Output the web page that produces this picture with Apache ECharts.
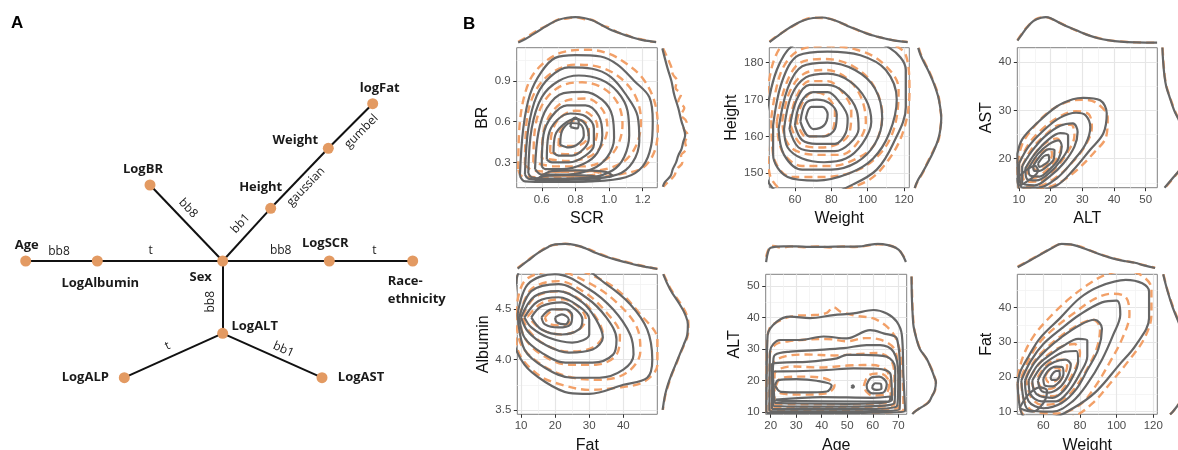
<!DOCTYPE html>
<html><head><meta charset="utf-8">
<script src="https://cdn.jsdelivr.net/npm/echarts@6/dist/echarts.min.js"></script>
<style>html,body{margin:0;padding:0;background:#fff}#c{width:1178px;height:450px}</style>
</head><body><div id="c"></div>
<script>
// ---------------- Panel A: tree (layout units) ----------------
const treeNodes = [
  ['Age', 25.7, 261], ['LogAlbumin', 97.3, 261], ['Sex', 222.7, 261], ['LogSCR', 329.3, 261],
  ['Race-ethnicity', 412.7, 261], ['LogBR', 150, 185], ['Height', 270.7, 208.3], ['Weight', 328.3, 148.3],
  ['logFat', 372.7, 103.7], ['LogALT', 222.7, 333.3], ['LogALP', 124.3, 377.7], ['LogAST', 322, 377.7]
];
const treeEdges = [
  ['Age', 'LogAlbumin', 'bb8'], ['LogAlbumin', 'Sex', 't'], ['Sex', 'LogSCR', 'bb8'], ['LogSCR', 'Race-ethnicity', 't'],
  ['LogBR', 'Sex', 'bb8'], ['Sex', 'Height', 'bb1'], ['Height', 'Weight', 'gaussian'], ['Weight', 'logFat', 'gumbel'],
  ['Sex', 'LogALT', 'bb8'], ['LogALT', 'LogALP', 't'], ['LogALT', 'LogAST', 'bb1']
];

// ---------------- Panel B data ----------------
const scrLim = [0.451, 1.287], brLim = [0.113, 1.145];
const scrTicks = [0.6, 0.8, 1.0, 1.2], scrMinor = [0.5, 0.7, 0.9, 1.1];
const brTicks = [0.3, 0.6, 0.9], brMinor = [0.15, 0.45, 0.75, 1.05];
const wt2Lim = [45.9, 122.9], htLim = [146.1, 184.05];
const wtTicks = [60, 80, 100, 120], wtMinor = [50, 70, 90, 110];
const htTicks = [150, 160, 170, 180], htMinor = [155, 165, 175];
const altLim = [9.46, 53.66], astLim = [14.0, 42.96];
const altTicks = [10, 20, 30, 40, 50], altMinor = [15, 25, 35, 45];
const astTicks = [20, 30, 40], astMinor = [15, 25, 35];
const fatLim = [8.9, 49.97], albLim = [3.457, 4.848];
const fatTicks = [10, 20, 30, 40], fatMinor = [15, 25, 35, 45];
const albTicks = [3.5, 4.0, 4.5], albMinor = [3.75, 4.25, 4.75];
const ageLim = [18.04, 73.3], alt2Lim = [9.37, 53.7];
const ageTicks = [20, 30, 40, 50, 60, 70], ageMinor = [25, 35, 45, 55, 65];
const alt2Ticks = [10, 20, 30, 40, 50], alt2Minor = [15, 25, 35, 45];
const wt6Lim = [45.8, 122.2], fat6Lim = [9.25, 49.6];
const fat6Ticks = [10, 20, 30, 40], fat6Minor = [15, 25, 35, 45];

// contour rings [x, y]
const scrBrGrey = [
  [[0.47,0.2],[0.49,0.55],[0.53,0.8],[0.6,0.97],[0.68,1.07],[0.8,1.09],[0.95,1.08],[1.05,1.02],[1.15,0.9],[1.24,0.78],[1.26,0.6],[1.25,0.42],[1.2,0.27],[1.1,0.19],[0.9,0.16],[0.65,0.155],[0.5,0.16]],
  [[0.5,0.21],[0.52,0.55],[0.57,0.79],[0.65,0.93],[0.76,1.0],[0.9,0.99],[1.01,0.93],[1.1,0.8],[1.17,0.64],[1.18,0.46],[1.14,0.3],[1.05,0.21],[0.85,0.175],[0.62,0.17],[0.52,0.18]],
  [[0.52,0.22],[0.54,0.55],[0.6,0.78],[0.7,0.9],[0.82,0.94],[0.95,0.91],[1.05,0.82],[1.11,0.68],[1.12,0.5],[1.09,0.34],[1.02,0.24],[0.88,0.185],[0.65,0.175],[0.54,0.19]],
  [[0.56,0.25],[0.58,0.52],[0.63,0.7],[0.73,0.81],[0.85,0.82],[0.96,0.76],[1.02,0.64],[1.03,0.48],[0.99,0.34],[0.9,0.25],[0.75,0.21],[0.6,0.21]],
  [[0.6,0.27],[0.61,0.5],[0.66,0.64],[0.75,0.72],[0.86,0.72],[0.94,0.64],[0.96,0.5],[0.93,0.37],[0.85,0.29],[0.72,0.25],[0.62,0.25]],
  [[0.63,0.32],[0.64,0.5],[0.69,0.61],[0.77,0.66],[0.86,0.64],[0.91,0.55],[0.91,0.43],[0.86,0.35],[0.76,0.3],[0.66,0.3]],
  [[0.67,0.37],[0.68,0.5],[0.73,0.58],[0.8,0.62],[0.86,0.58],[0.88,0.48],[0.85,0.4],[0.78,0.35],[0.7,0.35]],
  [[0.71,0.43],[0.72,0.53],[0.77,0.59],[0.83,0.58],[0.85,0.5],[0.82,0.44],[0.76,0.41]],
  [[0.77,0.56],[0.78,0.61],[0.8,0.63],[0.82,0.6],[0.81,0.55]],
  [[0.56,0.17],[0.62,0.2],[0.75,0.205],[0.9,0.2],[0.95,0.18],[0.85,0.16],[0.7,0.155],[0.58,0.16]],
  [[0.58,0.18],[0.66,0.235],[0.8,0.24],[0.98,0.23],[1.02,0.2],[0.9,0.185],[0.7,0.18]]
];
const scrBrOrange = [
  [[0.46,0.25],[0.47,0.6],[0.52,0.88],[0.6,1.02],[0.72,1.11],[0.88,1.13],[1.0,1.1],[1.1,1.03],[1.2,0.92],[1.27,0.75],[1.29,0.55],[1.27,0.38],[1.2,0.26],[1.05,0.21],[0.85,0.19],[0.6,0.19],[0.48,0.2]],
  [[0.5,0.28],[0.51,0.6],[0.56,0.82],[0.66,0.96],[0.8,1.02],[0.95,1.0],[1.07,0.92],[1.16,0.78],[1.19,0.6],[1.16,0.42],[1.08,0.3],[0.93,0.24],[0.72,0.23],[0.55,0.24]],
  [[0.55,0.3],[0.56,0.55],[0.61,0.74],[0.71,0.86],[0.84,0.89],[0.96,0.85],[1.05,0.74],[1.08,0.58],[1.05,0.42],[0.98,0.32],[0.85,0.27],[0.68,0.27]],
  [[0.6,0.33],[0.61,0.52],[0.66,0.67],[0.76,0.76],[0.87,0.77],[0.96,0.69],[0.99,0.56],[0.96,0.43],[0.88,0.34],[0.75,0.31]],
  [[0.65,0.37],[0.66,0.52],[0.71,0.63],[0.8,0.68],[0.88,0.66],[0.93,0.57],[0.92,0.46],[0.86,0.39],[0.76,0.36]],
  [[0.7,0.42],[0.71,0.53],[0.76,0.6],[0.83,0.61],[0.88,0.55],[0.87,0.47],[0.8,0.42]],
  [[0.6,0.21],[0.7,0.23],[0.85,0.235],[0.95,0.22],[0.85,0.2],[0.7,0.2]]
];
const wtHtGrey = [
  [[44,165],[50,178],[60,185],[75,186],[95,186],[112,184],[121,178],[121,168],[114,158],[105,151],[92,147],[75,144],[55,144],[44,150]],
  [[48,163],[53,175],[62,182],[78,183],[96,182],[110,178],[116,170],[112,161],[103,154],[90,150],[72,148],[56,149],[48,155]],
  [[51,162],[56,173],[64,179],[78,180],[93,178],[104,173],[108,165],[104,158],[94,153],[80,151],[64,151],[54,155]],
  [[54,162],[58,171],[66,176],[78,177],[90,175],[99,170],[102,164],[97,158],[88,154],[76,153],[64,154],[56,157]],
  [[57,162],[61,170],[68,174],[78,174],[87,172],[94,167],[95,162],[90,158],[82,156],[72,156],[62,157]],
  [[60,163],[63,169],[70,172],[78,172],[85,169],[89,165],[88,161],[82,158],[72,158],[64,159]],
  [[63,164],[66,169],[72,170],[79,169],[83,166],[82,162],[76,160],[68,160]],
  [[66,165],[69,168],[75,168],[78,166],[76,163],[70,162]]
];
const wtHtOrange = [
  [[44,168],[48,180],[56,186],[70,187],[90,187],[108,186],[121,182],[123,172],[120,162],[112,154],[100,148],[80,145],[60,144],[46,150]],
  [[47,165],[52,177],[61,183],[76,184.5],[94,183.5],[108,180],[117,173],[115,163],[108,156],[95,151],[76,149],[58,149],[48,155]],
  [[50,164],[55,174],[63,180],[77,181],[92,179],[103,174],[108,166],[104,158],[94,154],[80,152],[64,152],[53,156]],
  [[53,164],[57,172],[65,177],[77,178],[88,176],[96,171],[99,164],[94,158],[85,155],[74,155],[61,156],[55,159]],
  [[57,164],[61,171],[68,175],[78,175],[86,172],[91,167],[90,161],[84,158],[74,157],[63,158]],
  [[61,164],[64,169],[70,172],[77,171],[82,167],[81,162],[75,160],[66,160]]
];
const altAstGrey = [
  [[9.5,21],[11,24],[15.6,27.3],[21.9,30.8],[27,32.3],[30.3,32.6],[35.6,32.1],[37.7,29.4],[36.6,25.2],[32.4,21.8],[27.2,17.7],[22,14.5],[16,13.5],[10,13.5]],
  [[10,19],[13,22.5],[18,26],[23,28.5],[28,29.5],[31,29],[32.5,26.5],[31,23],[27,19.5],[22,16],[16,14],[11,14]],
  [[11,18.5],[14,21.5],[18,24.5],[23,26.8],[27,27.3],[28.5,25.5],[27.5,22.5],[24,19],[20,16.5],[15,14.5],[11,15]],
  [[12,18],[15,21],[19,23.8],[23,25.3],[25.5,24.8],[25.5,22.5],[23,19.5],[19.5,17],[15.5,15.5],[12.5,15.8]],
  [[13,18],[16,21],[19.5,23],[22.5,23.8],[23.5,22.5],[22.5,20],[20,18],[16.5,16.3],[13.5,16.5]],
  [[14.5,18.5],[17,20.8],[19.5,22],[21.2,21.8],[21,20],[19,18.5],[16.5,17.5],[14.8,17.5]],
  [[16,19],[17.8,20.5],[19.3,20.8],[19.5,19.8],[18,18.8],[16.5,18.3]],
  [[9.5,16],[12,17.5],[15,18.5],[16,17.5],[13,15.5],[10,14.5]]
];
const altAstOrange = [
  [[9.5,19],[11,23],[14,26],[19,29.5],[25,31.7],[30,32.2],[34.5,31.5],[38,28.5],[37.5,24.5],[34,21.5],[28,17.5],[22,14.8],[15,13.6],[10,13.8]],
  [[10,19],[13,23],[18,26.5],[23,28.8],[28,29.8],[32,29.2],[33,26.5],[31,22.8],[26.5,19],[21,15.8],[15,14.2],[11,14.5]],
  [[11,18.5],[14,22],[18.5,25],[23,27],[26.5,27],[27.5,24.8],[25.5,21.5],[21.5,18],[16.5,15.3],[12,15.2]],
  [[12.5,18.3],[15.5,21.5],[19,23.5],[22,24.2],[23.3,22.5],[21.8,20],[18.5,17.5],[14.5,16],[12.8,16.5]],
  [[14.5,18.8],[17,21.2],[19.5,22],[20.5,21],[19,19],[16.5,17.7],[14.8,17.8]]
];
const fatAlbGrey = [
  [[8,4.5],[10,4.9],[25,4.95],[35,4.75],[42,4.55],[47,4.3],[48.5,4.0],[47,3.82],[40,3.75],[30,3.66],[24,3.67],[17,3.78],[11,3.95],[8,4.2]],
  [[9,4.45],[12,4.75],[20,4.85],[30,4.7],[37,4.5],[42,4.25],[43,4.05],[40,3.9],[33,3.82],[25,3.82],[17,3.92],[11,4.1]],
  [[9.5,4.42],[13,4.68],[21,4.75],[29,4.62],[35,4.42],[38,4.2],[37,4.05],[31,3.97],[23,3.97],[16,4.07],[11,4.22]],
  [[10,4.42],[14,4.63],[21,4.68],[28,4.57],[32,4.4],[34,4.22],[31,4.1],[24,4.07],[17,4.15],[12,4.28]],
  [[11,4.42],[15,4.58],[21,4.62],[27,4.53],[30,4.4],[30,4.25],[25,4.17],[18,4.22],[13,4.32]],
  [[13,4.42],[16,4.53],[22,4.57],[26,4.5],[28,4.4],[27,4.3],[22,4.25],[16,4.3]],
  [[16,4.42],[19,4.5],[23,4.5],[25,4.44],[24.5,4.35],[21,4.32],[17,4.35]],
  [[20,4.42],[22,4.45],[24,4.4],[23,4.35],[20.5,4.37]]
];
const fatAlbOrange = [
  [[8,4.5],[9,4.85],[20,4.95],[30,4.85],[38,4.7],[45,4.45],[50,4.2],[50,3.95],[46,3.78],[38,3.72],[30,3.7],[22,3.75],[15,3.85],[9,4.1]],
  [[8.5,4.45],[11,4.78],[20,4.88],[30,4.76],[38,4.57],[44,4.32],[45,4.08],[41,3.87],[33,3.8],[24,3.83],[16,3.95],[10,4.15]],
  [[9.5,4.43],[13,4.7],[21,4.78],[29,4.66],[35,4.47],[39,4.25],[38,4.05],[32,3.95],[24,3.95],[16,4.05],[11,4.22]],
  [[10.5,4.43],[14,4.62],[21,4.68],[28,4.58],[32,4.42],[34,4.25],[31,4.12],[24,4.08],[17,4.15],[12,4.3]],
  [[12,4.43],[16,4.56],[22,4.6],[27,4.52],[29,4.4],[27,4.3],[22,4.25],[16,4.3]],
  [[17,4.42],[20,4.5],[24,4.48],[25,4.4],[22,4.34],[18,4.36]]
];
const ageAltGrey = [
  [[18.3,9.8],[18.4,20],[18.8,34.5],[22.4,38.7],[27.6,40.3],[35.4,39.8],[44.6,40.8],[52.4,41.3],[60.3,42.4],[65.5,41.3],[69.4,38.7],[71.4,34.5],[72,21.8],[72.7,10.5],[60,9.9],[40,9.8]],
  [[19.5,10.3],[19.7,29.2],[23.7,32.9],[31.5,32.9],[40.7,34],[49.8,33.4],[59,36],[64.2,35],[69.4,33.4],[70.7,21.8],[70.5,11],[60,10.4],[40,10.3]],
  [[20.5,11],[21,26],[21.7,28.2],[27.6,29.2],[38,29.7],[48.5,30.3],[57.6,31.3],[62.9,31.3],[68.1,29.2],[70,21.8],[69.5,12],[55,11],[35,11]],
  [[21,12],[20.4,25],[26.3,25.8],[34.1,26],[46,27.1],[49.8,28.2],[56.3,28.2],[65.5,27.6],[68.8,23.9],[68.5,13],[50,11.8],[30,11.8]],
  [[21.5,13],[20.8,22.9],[30,23],[42,23.4],[52.4,23.9],[62,23.8],[67,22],[67.5,14],[50,12.7],[30,12.8]],
  [[22,14],[40,14.8],[60,14.6],[67,15],[66,13.4],[40,13.5],[22,13.6]],
  [[21.7,18.5],[23,20.2],[30,20.5],[38,20],[43.9,18.5],[42,16.6],[33,16.3],[24,16.5]],
  [[57.6,18.7],[59.5,21],[62.5,21.3],[65.5,19],[64,16.2],[60,16],[58,17]],
  [[59.8,18.2],[61,19.2],[63.2,19],[63.4,17.5],[61.5,17.1],[60,17.5]],
  [[51.6,18.1],[52.2,18.5],[52.6,18.1],[52.1,17.8]]
];
const ageAltOrange = [
  [[18.3,9.8],[18.5,30],[19.5,36.5],[24,39.2],[30,40.6],[37,40.8],[42,41.5],[44.6,43.3],[47.5,41.8],[54,40.5],[60,39.8],[65,37.5],[69,33.5],[71.5,25],[72,10.5],[50,9.9],[25,9.9]],
  [[19.5,10.6],[19.6,28],[22,31.5],[27,32.5],[34,33],[42,33.2],[50,32.5],[57,33.5],[63,33],[68.5,30],[70,22],[70.3,11.5],[50,10.8],[30,10.7]],
  [[20.5,11.5],[20.8,25],[26,27.8],[34,28.3],[45,28],[55,28.5],[62,28.8],[67.5,26],[68.5,20],[68.5,12.5],[50,11.6],[30,11.5]],
  [[21.5,12.5],[21.5,22],[28,24.5],[40,24.2],[50,24.8],[60,25],[66,22.5],[67,15],[66,13],[45,12.5]],
  [[22,18.3],[24,20.8],[32,21.3],[41,20.8],[45,18.5],[42,16],[32,15.6],[24,16]],
  [[56.5,18.3],[58.5,21.8],[63,22.3],[66.5,19.3],[65,15.8],[60,15.3],[57.5,16.5]]
];
const wtFatGrey = [
  [[46,18],[47.4,21.5],[52,26],[58.2,31.2],[69,36.9],[79.8,42.7],[90.6,46.1],[105,48],[114,47],[117.7,44.6],[117.7,36.9],[110.5,29.2],[101.4,23.5],[88.8,15.8],[76.2,11],[65,8.5],[50,8.5]],
  [[48,19],[53,24.5],[60,29.5],[70,34],[80,38],[92,41.5],[100,42],[102,38],[98,32],[92,25],[84,18],[76,13],[65,10],[52,10.5]],
  [[50,19],[55,24],[62,28],[70,31.5],[80,35],[88,36.5],[92,34],[90,28],[84,22],[78,16.5],[70,12.5],[60,11],[52,13]],
  [[52,19],[57,23.5],[64,26.5],[71,29],[79,31],[84,30.5],[84,26],[80,21],[74,16],[67,13],[59,13],[53,15]],
  [[54,19],[59,23],[65,25.5],[72,27.3],[78,27.5],[79,24.5],[76,20],[71,16],[65,14],[58,14.5],[55,16]],
  [[57,19],[61,22.5],[66,24.3],[72,25],[75,23.5],[73,20],[69,17],[63,15.5],[59,16]],
  [[60,19.5],[63,22],[67,23],[70.5,22.8],[71,21],[69,18.8],[65,17.3],[61,17.5]],
  [[64,20],[66,21.5],[68.5,21.8],[69,20.5],[67,19.2],[64.5,19.2]],
  [[47,11],[52,15],[58,17],[62,16],[60,12.5],[54,10]]
];
const wtFatOrange = [
  [[46,20],[49,26],[55,32],[64,37.5],[74,42.5],[84,46.5],[94,49.5],[104,50.5],[113,49.5],[119,45.5],[119,38],[115,31],[107,25],[97,18.5],[87,12.5],[76,8.5],[60,7.5],[48,10]],
  [[48,20],[52,25],[58,30],[67,34.5],[77,38.5],[88,42.5],[97,44],[105,43],[107,38],[103,31],[96,24],[88,17],[80,12],[68,9.5],[55,10],[49,14]],
  [[50.5,20],[55,24.5],[62,28.5],[70,32],[79,35],[87,36.5],[91,34],[89,28],[83,21.5],[76,16],[68,12.5],[59,12],[53,14.5]],
  [[53,20],[58,24],[64,27],[71,29],[77,29.5],[80,27],[77,22],[72,17.5],[66,14.5],[59,14.5],[55,16.5]],
  [[57,20],[61,23],[66,24.8],[71,25],[73,23],[70,19.5],[66,17],[61,16.5],[58,17.5]],
  [[61,20.2],[64,22.3],[68,22.6],[69.5,21],[67,19],[63,18.5]]
];

// marginal densities (relative): top = [x, density], right = [y, density]
const scrDensGrey = [[0.46,0.03],[0.5,0.15],[0.55,0.35],[0.6,0.55],[0.65,0.75],[0.7,0.9],[0.75,0.98],[0.8,1.0],[0.85,0.97],[0.9,0.88],[0.95,0.72],[1.0,0.55],[1.05,0.42],[1.1,0.3],[1.15,0.2],[1.2,0.12],[1.25,0.07],[1.28,0.04]];
const scrDensOrange = [[0.46,0.05],[0.5,0.2],[0.55,0.4],[0.6,0.58],[0.65,0.74],[0.7,0.92],[0.75,0.95],[0.8,1.0],[0.85,0.93],[0.9,0.9],[0.95,0.7],[1.0,0.6],[1.05,0.42],[1.1,0.33],[1.15,0.2],[1.2,0.14],[1.25,0.06],[1.28,0.05]];
const brDensGrey = [[1.14,0.02],[1.0,0.2],[0.9,0.35],[0.8,0.45],[0.7,0.6],[0.6,0.72],[0.55,0.8],[0.5,0.85],[0.45,0.78],[0.4,0.72],[0.35,0.6],[0.3,0.52],[0.25,0.4],[0.2,0.32],[0.15,0.1],[0.12,0.04]];
const brDensOrange = [[1.14,0.05],[1.05,0.25],[1.0,0.35],[0.95,0.4],[0.9,0.55],[0.85,0.5],[0.8,0.7],[0.75,0.6],[0.7,0.82],[0.65,0.7],[0.6,0.9],[0.55,0.8],[0.5,0.95],[0.45,0.85],[0.4,0.9],[0.35,0.7],[0.3,0.75],[0.25,0.55],[0.2,0.45],[0.15,0.2],[0.12,0.06]];
const wtDensGrey = [[46,0.04],[50,0.25],[55,0.5],[60,0.72],[65,0.88],[70,0.97],[75,0.99],[80,0.92],[85,0.8],[90,0.63],[95,0.5],[100,0.36],[105,0.26],[110,0.17],[115,0.1],[122,0.04]];
const wtDensOrange = [[46,0.06],[50,0.27],[55,0.5],[60,0.7],[65,0.9],[70,0.98],[75,0.97],[80,0.93],[85,0.78],[90,0.65],[95,0.48],[100,0.37],[105,0.25],[110,0.18],[115,0.1],[122,0.05]];
const htDensGrey = [[184,0.16],[182,0.25],[180,0.38],[177,0.58],[174,0.75],[171,0.88],[168,0.96],[165,1.0],[162,0.97],[159,0.88],[156,0.72],[153,0.52],[150,0.3],[148,0.14],[146,0.03]];
const htDensOrange = [[184,0.18],[182,0.27],[180,0.4],[177,0.6],[174,0.76],[171,0.9],[168,0.95],[165,1.0],[162,0.96],[159,0.9],[156,0.7],[153,0.5],[150,0.32],[148,0.15],[146,0.04]];
const altDensGrey = [[9.5,0.1],[11,0.35],[12.5,0.6],[14.5,0.85],[17,0.98],[18.5,1.0],[20,0.96],[23,0.77],[26,0.6],[29,0.45],[32,0.3],[35,0.19],[38,0.12],[42,0.06],[47,0.03],[53.6,0.02]];
const altDensOrange = [[9.5,0.12],[11,0.38],[12.5,0.62],[14.5,0.86],[16,0.96],[18,1.0],[20,0.95],[23,0.78],[26,0.6],[29,0.44],[32,0.31],[35,0.2],[38,0.12],[42,0.07],[47,0.03],[53.6,0.02]];
const astDensGrey = [[43,0.02],[40,0.05],[37,0.1],[35,0.16],[33,0.27],[30,0.45],[28,0.62],[25,0.85],[22,1.0],[20,0.95],[18,0.7],[16,0.4],[14,0.1]];
const astDensOrange = [[43,0.03],[40,0.06],[37,0.11],[35,0.17],[33,0.28],[30,0.47],[28,0.63],[25,0.86],[22,1.0],[20,0.94],[18,0.7],[16,0.42],[14,0.12]];
const fatDensGrey = [[9,0.05],[12,0.35],[15,0.65],[18,0.88],[20,0.98],[23,1.0],[26,0.95],[29,0.82],[32,0.65],[35,0.5],[38,0.38],[41,0.28],[44,0.18],[47,0.1],[50,0.03]];
const fatDensOrange = [[9,0.07],[12,0.37],[15,0.66],[18,0.9],[20,0.96],[23,1.0],[26,0.93],[29,0.84],[32,0.68],[35,0.52],[38,0.4],[41,0.3],[44,0.2],[47,0.11],[50,0.04]];
const albDensGrey = [[4.85,0.05],[4.7,0.3],[4.55,0.65],[4.45,0.85],[4.35,0.95],[4.25,0.93],[4.15,0.8],[4.05,0.65],[3.95,0.5],[3.85,0.35],[3.75,0.22],[3.65,0.12],[3.5,0.03]];
const albDensOrange = [[4.85,0.07],[4.7,0.33],[4.55,0.7],[4.45,0.9],[4.35,0.97],[4.25,0.95],[4.15,0.82],[4.05,0.66],[3.95,0.52],[3.85,0.36],[3.75,0.24],[3.65,0.13],[3.5,0.04]];
const ageDensGrey = [[18.2,0.3],[19,0.7],[20,0.85],[25,0.9],[30,0.9],[35,0.88],[40,0.88],[45,0.89],[50,0.89],[55,0.9],[58,0.95],[62,1.0],[66,0.95],[69,0.85],[71,0.68],[73,0.3]];
const ageDensOrange = [[18.2,0.5],[19.5,0.85],[21,0.92],[24,0.85],[28,0.9],[33,0.87],[38,0.9],[43,0.86],[48,0.9],[53,0.88],[58,0.93],[62,0.98],[66,0.95],[69,0.85],[71,0.68],[73,0.35]];
const alt2DensGrey = [[53,0.01],[45,0.03],[40,0.06],[37,0.09],[33,0.2],[30,0.32],[27,0.56],[24,0.72],[21,0.85],[19.5,0.9],[17,0.86],[15,0.75],[13,0.62],[11.5,0.35],[10,0.1],[9.4,0.04]];
const alt2DensOrange = [[53,0.02],[45,0.04],[40,0.07],[37,0.1],[33,0.21],[30,0.33],[27,0.55],[24,0.73],[21,0.86],[19.5,0.9],[17,0.87],[15,0.74],[13,0.6],[11.5,0.34],[10,0.1],[9.4,0.05]];
const wt6DensGrey = [[46,0.1],[50,0.25],[55,0.45],[60,0.65],[65,0.85],[70,1.0],[75,0.98],[80,0.88],[85,0.75],[90,0.62],[95,0.5],[100,0.4],[105,0.33],[110,0.27],[115,0.17],[121,0.07]];
const wt6DensOrange = [[46,0.12],[50,0.27],[55,0.47],[60,0.66],[65,0.86],[70,0.99],[75,0.97],[80,0.9],[85,0.76],[90,0.63],[95,0.51],[100,0.41],[105,0.34],[110,0.27],[115,0.18],[121,0.08]];
const fat6DensGrey = [[49.6,0.05],[45,0.2],[40,0.4],[35,0.65],[30,0.85],[25,0.98],[20,1.0],[15,0.85],[12,0.6],[10,0.4],[9.25,0.3]];
const fat6DensOrange = [[49.6,0.06],[45,0.21],[40,0.42],[35,0.66],[30,0.86],[25,0.98],[20,1.0],[15,0.84],[12,0.6],[10,0.4],[9.25,0.3]];

// ---------------- build ----------------
const panels = [
  {xName:'SCR', yName:'BR', xLim:scrLim, yLim:brLim, xTicks:scrTicks, yTicks:brTicks, xMinor:scrMinor, yMinor:brMinor, xDec:1, yDec:1, grey:scrBrGrey, orange:scrBrOrange, topG:scrDensGrey, topO:scrDensOrange, rightG:brDensGrey, rightO:brDensOrange},
  {xName:'Weight', yName:'Height', xLim:wt2Lim, yLim:htLim, xTicks:wtTicks, yTicks:htTicks, xMinor:wtMinor, yMinor:htMinor, xDec:0, yDec:0, grey:wtHtGrey, orange:wtHtOrange, topG:wtDensGrey, topO:wtDensOrange, rightG:htDensGrey, rightO:htDensOrange},
  {xName:'ALT', yName:'AST', xLim:altLim, yLim:astLim, xTicks:altTicks, yTicks:astTicks, xMinor:altMinor, yMinor:astMinor, xDec:0, yDec:0, grey:altAstGrey, orange:altAstOrange, topG:altDensGrey, topO:altDensOrange, rightG:astDensGrey, rightO:astDensOrange},
  {xName:'Fat', yName:'Albumin', xLim:fatLim, yLim:albLim, xTicks:fatTicks, yTicks:albTicks, xMinor:fatMinor, yMinor:albMinor, xDec:0, yDec:1, grey:fatAlbGrey, orange:fatAlbOrange, topG:fatDensGrey, topO:fatDensOrange, rightG:albDensGrey, rightO:albDensOrange},
  {xName:'Age', yName:'ALT', xLim:ageLim, yLim:alt2Lim, xTicks:ageTicks, yTicks:alt2Ticks, xMinor:ageMinor, yMinor:alt2Minor, xDec:0, yDec:0, grey:ageAltGrey, orange:ageAltOrange, topG:ageDensGrey, topO:ageDensOrange, rightG:alt2DensGrey, rightO:alt2DensOrange},
  {xName:'Weight', yName:'Fat', xLim:wt6Lim, yLim:fat6Lim, xTicks:wtTicks, yTicks:fat6Ticks, xMinor:wtMinor, yMinor:fat6Minor, xDec:0, yDec:0, grey:wtFatGrey, orange:wtFatOrange, topG:wt6DensGrey, topO:wt6DensOrange, rightG:fat6DensGrey, rightO:fat6DensOrange}
];
// layout: left, top, width, height, yNameGap
const panelBoxes = [
  [516.7, 47.7, 140.6, 140, 26], [769.3, 47.7, 140, 140, 30], [1017.3, 47.7, 140, 140, 23],
  [517.3, 274.3, 140, 140, 26], [765.7, 274.3, 141, 140, 23], [1017.3, 274.3, 140, 140, 23]
];

const AXF = 'Liberation Sans, Arial, sans-serif';
const TREEF = 'Open Sans, Noto Sans, sans-serif';
const GREY = '#666666', ORANGE = '#F2A068';
const grids = [], xAxes = [], yAxes = [], series = [];

grids.push({left:0, top:0, width:460, height:450, show:false, outerBoundsMode:'none'});
xAxes.push({gridIndex:0, type:'value', min:0, max:460, show:false});
yAxes.push({gridIndex:0, type:'value', min:0, max:450, inverse:true, show:false});
const nodePos = {};
treeNodes.forEach(n => { nodePos[n[0]] = [n[1], n[2]]; });
series.push({
  type:'lines', coordinateSystem:'cartesian2d', xAxisIndex:0, yAxisIndex:0, silent:true, z:2,
  lineStyle:{color:'#111', width:2, opacity:1, curveness:0},
  data: treeEdges.map(e => ({coords:[nodePos[e[0]], nodePos[e[1]]]}))
});
const nodeLabelOffset = {
  'Age':[1,-16], 'LogAlbumin':[3,22], 'Sex':[-22,16], 'LogSCR':[-4,-18], 'LogBR':[-7,-16],
  'Height':[-10,-21], 'Weight':[-33,-8], 'logFat':[7,-15], 'LogALT':[32,-7], 'LogALP':[-39,0], 'LogAST':[39,0]
};
series.push({
  type:'scatter', xAxisIndex:0, yAxisIndex:0, symbol:'circle', symbolSize:11, silent:true, z:5,
  itemStyle:{color:'#E39A62', opacity:1},
  data: treeNodes.map(n => {
    const isRace = n[0] === 'Race-ethnicity';
    return {
      name:n[0], value:[n[1], n[2]],
      label:{show:true, position:'inside', formatter: isRace ? 'Race-\nethnicity' : n[0],
        align: isRace ? 'left' : 'center', verticalAlign:'middle',
        offset: isRace ? [-25, 29] : nodeLabelOffset[n[0]], lineHeight:18,
        fontFamily:TREEF, fontWeight:'bold', fontSize:13, color:'#1a1a1a'}
    };
  })
});
// edge label placement: [fraction along edge, perpendicular distance]
const edgeLabelPlace = [[0.465,9.5],[0.426,10],[0.544,10],[0.54,10],[0.41,11.5],[0.555,12],[0.48,-10.5],[0.56,-11.5],[0.563,12],[0.514,11],[0.57,10]];
series.push({
  type:'scatter', xAxisIndex:0, yAxisIndex:0, symbol:'circle', symbolSize:0.5, silent:true, z:6,
  itemStyle:{color:'#ffffff', opacity:1},
  data: treeEdges.map((e, i) => {
    const a = nodePos[e[0]], b = nodePos[e[1]];
    const dx = b[0]-a[0], dy = b[1]-a[1];
    let th = Math.atan2(-dy, dx) * 180 / Math.PI;
    if (th > 90) th -= 180;
    if (th <= -90) th += 180;
    const r = th * Math.PI / 180;
    const up = [-Math.sin(r), -Math.cos(r)];
    const f = edgeLabelPlace[i][0], p = edgeLabelPlace[i][1];
    return {
      name:e[2], value:[a[0] + f*dx + p*up[0], a[1] + f*dy + p*up[1]],
      label:{show:true, position:'inside', formatter:e[2], rotate:th, align:'center', verticalAlign:'middle',
        fontFamily:TREEF, fontSize:12, color:'#1a1a1a', opacity:1, textBorderWidth:0}
    };
  })
});

function fmt(dec){ return v => (dec ? Number(v).toFixed(dec) : String(v)); }
panels.forEach((P, k) => {
  const [L, T, W, H, yGap] = panelBoxes[k];
  const gi = grids.length;
  grids.push({left:L, top:T, width:W, height:H, show:true, borderColor:'#808080', borderWidth:1, backgroundColor:'rgba(0,0,0,0)', outerBoundsMode:'none'});
  const xi = xAxes.length, yi = yAxes.length;
  xAxes.push({gridIndex:gi, type:'value', position:'bottom', min:P.xLim[0], max:P.xLim[1],
    name:P.xName, nameLocation:'middle', nameGap:23, nameTextStyle:{fontFamily:AXF, fontSize:16, color:'#111'},
    axisLine:{show:false}, axisTick:{show:true, length:3.5, lineStyle:{color:'#333', width:1}, customValues:P.xTicks},
    axisLabel:{show:true, customValues:P.xTicks, formatter:fmt(P.xDec), color:'#4d4d4d', fontFamily:AXF, fontSize:11.5, margin:6},
    splitLine:{show:true, lineStyle:{color:'#e6e6e6', width:1.2}}});
  yAxes.push({gridIndex:gi, type:'value', position:'left', min:P.yLim[0], max:P.yLim[1],
    name:P.yName, nameLocation:'middle', nameGap:yGap, nameTextStyle:{fontFamily:AXF, fontSize:16, color:'#111'},
    axisLine:{show:false}, axisTick:{show:true, length:3.5, lineStyle:{color:'#333', width:1}, customValues:P.yTicks},
    axisLabel:{show:true, customValues:P.yTicks, formatter:fmt(P.yDec), color:'#4d4d4d', fontFamily:AXF, fontSize:11.5, margin:6},
    splitLine:{show:true, lineStyle:{color:'#e6e6e6', width:1.2}}});
  xAxes.push({gridIndex:gi, type:'value', position:'top', min:P.xLim[0], max:P.xLim[1],
    axisLine:{show:false}, axisTick:{show:false, customValues:P.xMinor}, axisLabel:{show:false, customValues:P.xMinor},
    splitLine:{show:true, lineStyle:{color:'#f2f2f2', width:0.8}}});
  yAxes.push({gridIndex:gi, type:'value', position:'right', min:P.yLim[0], max:P.yLim[1],
    axisLine:{show:false}, axisTick:{show:false, customValues:P.yMinor}, axisLabel:{show:false, customValues:P.yMinor},
    splitLine:{show:true, lineStyle:{color:'#f2f2f2', width:0.8}}});
  const ringSeries = (ring, color, dashed, z) => ({
    type:'line', xAxisIndex:xi, yAxisIndex:yi, data:ring.concat([ring[0]]), smooth:0.35, symbol:'none',
    clip:true, silent:true, z:z, animation:false,
    lineStyle:{color:color, width: dashed ? 2.4 : 2.2, type: dashed ? [8,5] : 'solid'}
  });
  P.orange.forEach(r => series.push(ringSeries(r, ORANGE, true, 3)));
  P.grey.forEach(r => series.push(ringSeries(r, GREY, false, 4)));

  const tg = grids.length;
  grids.push({left:L, top:T-31, width:W, height:26.5, show:false, outerBoundsMode:'none'});
  const txi = xAxes.length, tyi = yAxes.length;
  xAxes.push({gridIndex:tg, type:'value', min:P.xLim[0], max:P.xLim[1], show:false});
  yAxes.push({gridIndex:tg, type:'value', min:0, max:1.02, show:false});
  const margLine = (data, xa, ya, color, dashed, z) => ({
    type:'line', xAxisIndex:xa, yAxisIndex:ya, data:data, smooth:0.4, symbol:'none', clip:true, silent:true, z:z,
    lineStyle:{color:color, width: dashed ? 2.4 : 2.2, type: dashed ? [8,5] : 'solid'}
  });
  series.push(margLine(P.topO, txi, tyi, ORANGE, true, 3));
  series.push(margLine(P.topG, txi, tyi, GREY, false, 4));

  const rg = grids.length;
  grids.push({left:L+W+4.5, top:T, width:28, height:H, show:false, outerBoundsMode:'none'});
  const rxi = xAxes.length, ryi = yAxes.length;
  xAxes.push({gridIndex:rg, type:'value', min:0, max:1.02, show:false});
  yAxes.push({gridIndex:rg, type:'value', min:P.yLim[0], max:P.yLim[1], show:false});
  series.push(margLine(P.rightO.map(p => [p[1], p[0]]), rxi, ryi, ORANGE, true, 3));
  series.push(margLine(P.rightG.map(p => [p[1], p[0]]), rxi, ryi, GREY, false, 4));
});

const chart = echarts.init(document.getElementById('c'), null, {renderer:'canvas', width:1178, height:450});
chart.setOption({
  animation:false,
  backgroundColor:'#ffffff',
  grid:grids, xAxis:xAxes, yAxis:yAxes, series:series,
  graphic:[
    {type:'text', left:11, top:15, style:{text:'A', font:'bold 17px Liberation Sans, Arial, sans-serif', fill:'#000'}},
    {type:'text', left:463, top:16, style:{text:'B', font:'bold 17px Liberation Sans, Arial, sans-serif', fill:'#000'}}
  ]
});
</script></body></html>
